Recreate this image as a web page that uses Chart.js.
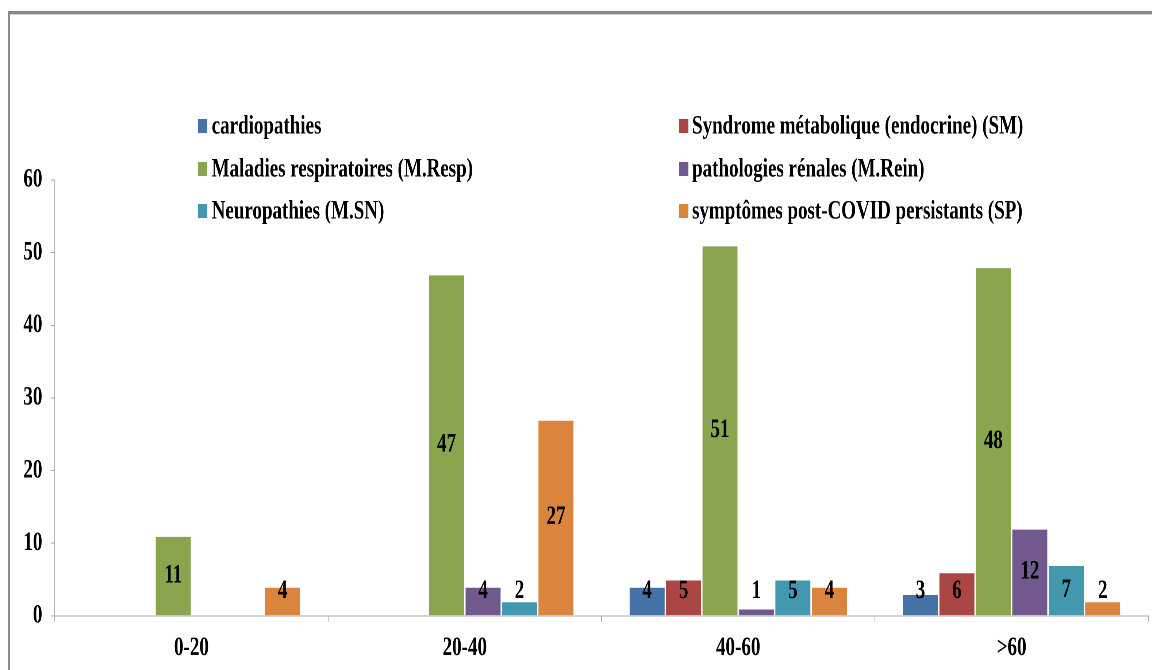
<!DOCTYPE html>
<html>
<head>
<meta charset="utf-8">
<script src="https://cdn.jsdelivr.net/npm/chart.js@4.4.1/dist/chart.umd.min.js"></script>
<style>
  html, body { margin: 0; padding: 0; background: #ffffff; }
  body { width: 1152px; height: 670px; overflow: hidden; position: relative; }
  #frame {
    position: absolute; left: 8px; top: 11px; width: 1300px; height: 800px;
    border-top: 3px solid #878787; border-left: 2px solid #8a8a8a;
    box-shadow: inset 0 1px 0 #d4d4d4;
  }
  /* the chart is laid out wide and squeezed horizontally for narrow lettering */
  #wrap {
    position: absolute; left: 0; top: 0; width: 1578px; height: 682px;
    transform: scaleX(0.73); transform-origin: 0 0;
  }
</style>
</head>
<body>
<div id="frame"></div>
<div id="wrap"><canvas id="c"></canvas></div>
<script>
// Age groups on the x axis
const ageGroups = ['0-20', '20-40', '40-60', '>60'];

// Counts per comorbidity (null = no bar)
const cardiopathies         = [null, null, 4, 3];
const syndromeMetabolique   = [null, null, 5, 6];
const maladiesRespiratoires = [11, 47, 51, 48];
const pathologiesRenales    = [null, 4, 1, 12];
const neuropathies          = [null, 2, 5, 7];
const symptomesPostCovid    = [4, 27, 4, 2];

const seriesLabels = [
  'cardiopathies',
  'Syndrome métabolique (endocrine) (SM)',
  'Maladies respiratoires (M.Resp)',
  'pathologies rénales (M.Rein)',
  'Neuropathies (M.SN)',
  'symptômes post-COVID persistants (SP)'
];
const seriesValues = [cardiopathies, syndromeMetabolique, maladiesRespiratoires,
                      pathologiesRenales, neuropathies, symptomesPostCovid];
const seriesColors = ['#4572A7', '#AA4643', '#89A54E', '#71588F', '#4198AF', '#DB843D'];

// y axis range
const yMin = 0, yMax = 60, yStep = 10;

const FAMILY = '"Liberation Serif", "Times New Roman", serif';
const FONT = 'bold 26px ' + FAMILY;

// Value labels: centred in the bar, lifted above the baseline for short bars
const valueLabels = {
  id: 'valueLabels',
  afterDatasetsDraw(chart) {
    const ctx = chart.ctx;
    ctx.save();
    ctx.font = FONT;
    ctx.fillStyle = '#000';
    ctx.textAlign = 'center';
    ctx.textBaseline = 'middle';
    chart.data.datasets.forEach((ds, di) => {
      const meta = chart.getDatasetMeta(di);
      meta.data.forEach((bar, i) => {
        const v = ds.data[i];
        if (v === null || v === undefined) return;
        const mid = (bar.y + bar.base) / 2;
        const y = Math.min(mid, bar.base - 24);
        ctx.fillText(String(v), bar.x, y);
      });
    });
    ctx.restore();
  }
};

// Two-column legend above the plot
const twoColLegend = {
  id: 'twoColLegend',
  afterDraw(chart) {
    const ctx = chart.ctx;
    const boxX = [271, 930];
    const textX = [290, 948];
    const rowY = [126, 169, 211];
    ctx.save();
    ctx.font = FONT;
    ctx.textBaseline = 'middle';
    ctx.textAlign = 'left';
    chart.data.datasets.forEach((ds, i) => {
      const col = i % 2, row = Math.floor(i / 2);
      ctx.fillStyle = ds.backgroundColor;
      ctx.fillRect(boxX[col], rowY[row] - 7, 13, 14);
      ctx.fillStyle = '#000';
      ctx.fillText(ds.label, textX[col], rowY[row] + 1);
    });
    ctx.restore();
  }
};

new Chart(document.getElementById('c'), {
  type: 'bar',
  data: {
    labels: ageGroups,
    datasets: seriesLabels.map((label, i) => ({
      label,
      data: seriesValues[i],
      backgroundColor: seriesColors[i],
      borderColor: 'rgba(255,255,255,0.85)',
      borderWidth: 1,
      categoryPercentage: 0.8,
      barPercentage: 1.0
    }))
  },
  options: {
    responsive: true,
    maintainAspectRatio: false,
    devicePixelRatio: 2,
    animation: false,
    layout: { padding: { top: 180, left: 20, right: 5, bottom: 7 } },
    plugins: {
      legend: { display: false },
      tooltip: { enabled: false }
    },
    scales: {
      x: {
        grid: {
          offset: true, drawOnChartArea: false, drawTicks: true,
          tickLength: 6, color: '#a8a8a8', lineWidth: 1
        },
        border: { color: '#a8a8a8', width: 1 },
        ticks: {
          color: '#000', padding: 11,
          font: { family: FAMILY, size: 26, weight: 'bold' }
        }
      },
      y: {
        min: yMin, max: yMax,
        grid: {
          drawOnChartArea: false, drawTicks: true,
          tickLength: 5, color: '#a8a8a8', lineWidth: 1
        },
        border: { color: '#a8a8a8', width: 1 },
        ticks: {
          stepSize: yStep, color: '#000', padding: 12,
          font: { family: FAMILY, size: 26, weight: 'bold' }
        }
      }
    }
  },
  plugins: [valueLabels, twoColLegend]
});
</script>
</body>
</html>
